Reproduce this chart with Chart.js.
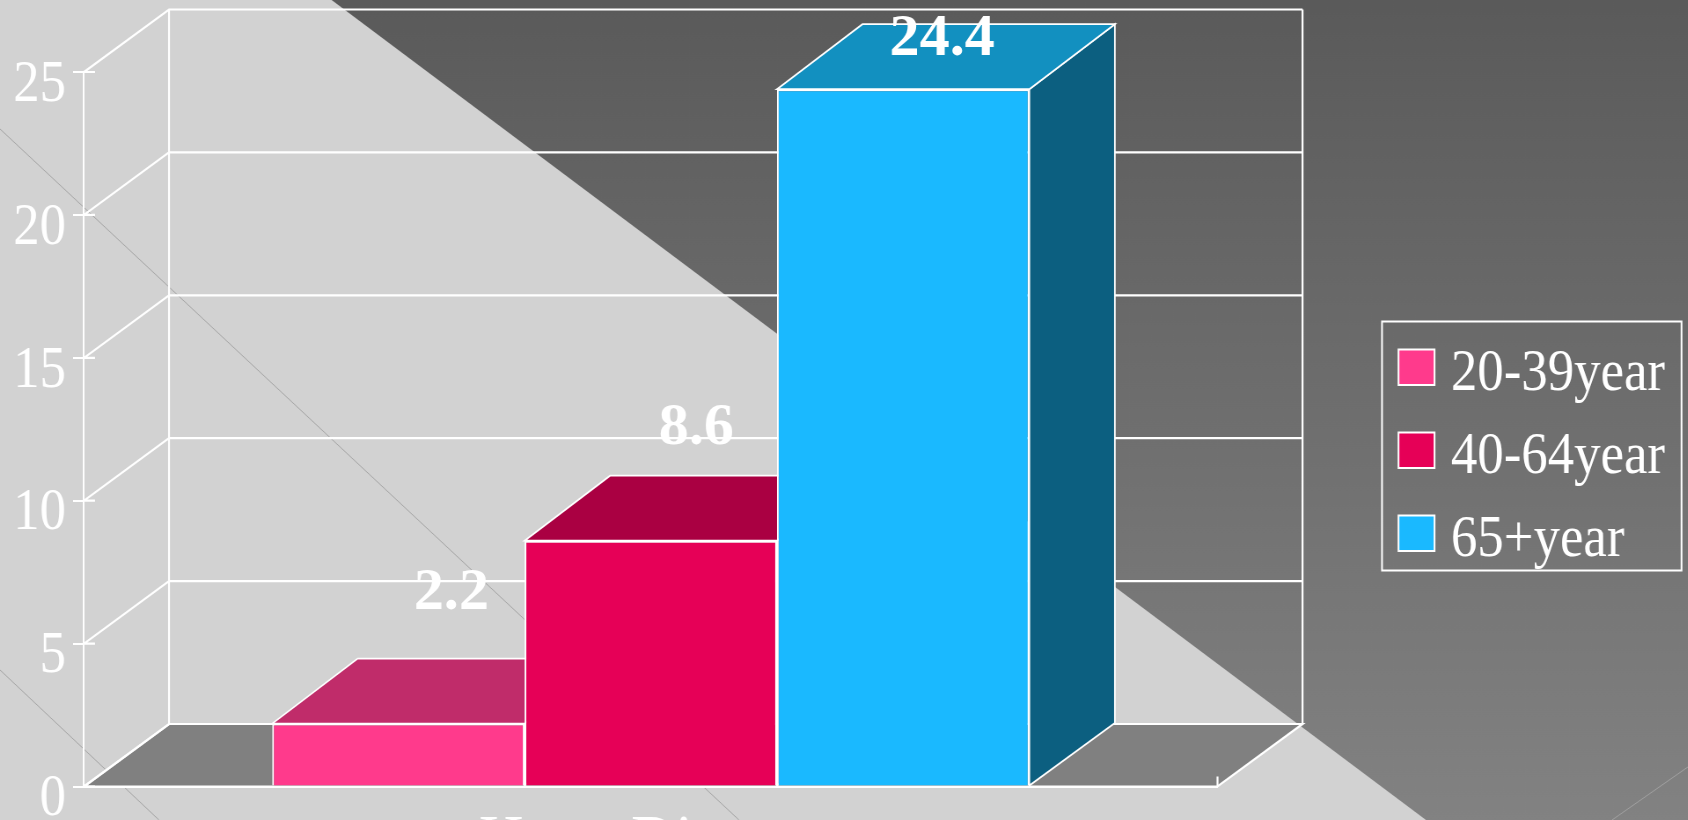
<!DOCTYPE html>
<html>
<head>
<meta charset="utf-8">
<style>
html,body{margin:0;padding:0;width:1688px;height:820px;overflow:hidden;background:#d2d2d2}
#c{position:absolute;left:0;top:0;transform-origin:0 0;transform:scaleX(0.88)}
</style>
<script src="https://cdn.jsdelivr.net/npm/chart.js@4"></script>
</head>
<body>
<canvas id="c" width="1918" height="820"></canvas>
<script>
const categories = ['Heart Disease'];
const seriesNames = ['20-39year', '40-64year', '65+year'];
const series1 = [2.2];
const series2 = [8.6];
const series3 = [24.4];
const yTicks = [0, 5, 10, 15, 20, 25];

const frontColors = ['#ff3a8c', '#e60057', '#1ab9ff'];
const topColors = ['#c02c6a', '#aa0042', '#1290c0'];
const sideColors = ['#a0265a', '#8a0038', '#0c5f80'];

const SX = 0.88;               // horizontal squeeze of the whole picture
const X = v => v / SX;         // picture px -> canvas px
const FONT = '"Liberation Serif"';
const WHITE = '#ffffff';
const PLOT_TOP = 72, PLOT_BOTTOM = 786.5;
const WALL_DX = X(85), WALL_DY = 62.5;
const BAR_DX = X(85.5), BAR_DY = 65;
const LABEL_STRETCH = 1.14;
const labelShiftX = [53, 45.5, 39];
const labelShiftY = [-115, -97, -34];

const pinPlot = {
  id: 'pinPlot',
  afterLayout(chart) {
    const xs = chart.scales.x, ys = chart.scales.y, a = chart.chartArea;
    ys.top = PLOT_TOP; ys.bottom = PLOT_BOTTOM; ys.height = PLOT_BOTTOM - PLOT_TOP;
    ys.configure();
    xs.top = PLOT_BOTTOM; xs.bottom = chart.height; xs.height = chart.height - PLOT_BOTTOM;
    a.top = PLOT_TOP; a.bottom = PLOT_BOTTOM; a.height = ys.height;
  }
};

const backdrop = {
  id: 'backdrop',
  beforeDraw(chart) {
    const c = chart.ctx, W = chart.width, H = chart.height;
    c.save();
    const g = c.createLinearGradient(0, 0, 0, H);
    g.addColorStop(0, '#5a5a5a');
    g.addColorStop(1, '#828282');
    c.fillStyle = g;
    c.fillRect(0, 0, W, H);
    c.fillStyle = '#d2d2d2';
    c.beginPath();
    c.moveTo(0, 0); c.lineTo(X(331.6), 0); c.lineTo(X(1426), H); c.lineTo(0, H);
    c.closePath(); c.fill();
    c.lineWidth = 1;
    c.strokeStyle = '#a6a6a6';
    c.beginPath();
    c.moveTo(0, 129); c.lineTo(X(739), H);
    c.moveTo(0, 670); c.lineTo(X(159), H);
    c.stroke();
    c.strokeStyle = '#a0a0a0';
    c.beginPath();
    c.moveTo(X(1612), H); c.lineTo(W, 767);
    c.stroke();
    c.restore();
  }
};

const walls3d = {
  id: 'walls3d',
  beforeDatasetsDraw(chart) {
    const c = chart.ctx, xs = chart.scales.x, ys = chart.scales.y;
    const L = xs.left, R = xs.right, B = ys.getPixelForValue(0), T = ys.getPixelForValue(25);
    c.save();
    c.lineJoin = 'miter';
    // floor
    c.fillStyle = '#808080';
    c.beginPath();
    c.moveTo(L, B); c.lineTo(L + WALL_DX, B - WALL_DY);
    c.lineTo(R + WALL_DX, B - WALL_DY); c.lineTo(R, B);
    c.closePath(); c.fill();
    c.strokeStyle = WHITE; c.lineWidth = 2.2; c.stroke();
    // back wall and left wall lines
    c.beginPath();
    yTicks.forEach(v => {
      const y = ys.getPixelForValue(v);
      c.moveTo(L, y); c.lineTo(L + WALL_DX, y - WALL_DY); c.lineTo(R + WALL_DX, y - WALL_DY);
      // inner half of the crossing tick
      c.moveTo(L, y); c.lineTo(L + X(11), y);
    });
    c.moveTo(L + WALL_DX, B - WALL_DY); c.lineTo(L + WALL_DX, T - WALL_DY);
    c.moveTo(R + WALL_DX, B - WALL_DY); c.lineTo(R + WALL_DX, T - WALL_DY);
    c.moveTo(R, B); c.lineTo(R, B - 10);
    c.stroke();
    // bar top and side faces, first series first
    [0, 1, 2].forEach(i => {
      const bar = chart.getDatasetMeta(i).data[0];
      const p = bar.getProps(['x', 'y', 'width', 'base'], true);
      const l = p.x - p.width / 2, r = p.x + p.width / 2;
      c.lineWidth = 1.8;
      c.strokeStyle = WHITE;
      c.fillStyle = sideColors[i];
      c.beginPath();
      c.moveTo(r, p.y); c.lineTo(r + BAR_DX, p.y - BAR_DY);
      c.lineTo(r + BAR_DX, p.base - WALL_DY); c.lineTo(r, p.base);
      c.closePath(); c.fill(); c.stroke();
      c.fillStyle = topColors[i];
      c.beginPath();
      c.moveTo(l, p.y); c.lineTo(l + BAR_DX, p.y - BAR_DY);
      c.lineTo(r + BAR_DX, p.y - BAR_DY); c.lineTo(r, p.y);
      c.closePath(); c.fill(); c.stroke();
    });
    c.restore();
  },
  afterDatasetsDraw(chart) {
    const c = chart.ctx;
    c.save();
    // value labels
    c.font = 'bold 60px ' + FONT;
    c.fillStyle = WHITE;
    c.textAlign = 'center';
    c.textBaseline = 'alphabetic';
    chart.data.datasets.forEach((ds, i) => {
      const bar = chart.getDatasetMeta(i).data[0];
      const p = bar.getProps(['x', 'y'], true);
      c.save();
      c.translate(p.x + X(labelShiftX[i]), p.y + labelShiftY[i]);
      c.scale(LABEL_STRETCH, 1);
      c.fillText(ds.data[0].toFixed(1), 0, 0);
      c.restore();
    });
    // legend
    c.strokeStyle = WHITE;
    c.lineWidth = 2;
    c.strokeRect(X(1382), 321.5, X(299.5), 249);
    c.font = '60px ' + FONT;
    c.textAlign = 'left';
    chart.data.datasets.forEach((ds, i) => {
      const top = 349.5 + i * 83;
      c.fillStyle = ds.backgroundColor;
      c.fillRect(X(1398.5), top, X(36), 35.5);
      c.strokeRect(X(1398.5), top, X(36), 35.5);
      c.fillStyle = WHITE;
      c.fillText(ds.label, X(1451), 390 + i * 83);
    });
    c.restore();
  }
};

new Chart(document.getElementById('c'), {
  type: 'bar',
  data: {
    labels: categories,
    datasets: [series1, series2, series3].map((values, i) => ({
      label: seriesNames[i],
      data: values,
      backgroundColor: frontColors[i],
      borderColor: WHITE,
      borderWidth: 2
    }))
  },
  plugins: [pinPlot, backdrop, walls3d],
  options: {
    responsive: false,
    maintainAspectRatio: false,
    animation: false,
    events: [],
    devicePixelRatio: 1,
    categoryPercentage: 0.668,
    barPercentage: 1,
    layout: {
      autoPadding: false,
      padding: { left: 0, top: PLOT_TOP, bottom: 0, right: 1918 - X(1217.5) }
    },
    plugins: { legend: { display: false }, tooltip: { enabled: false }, title: { display: false } },
    scales: {
      x: {
        afterFit(s) { s.height = 34; },
        grid: { display: false },
        border: { color: WHITE, width: 2 },
        ticks: {
          color: WHITE, padding: 15, maxRotation: 0, autoSkip: false,
          font: { family: FONT, size: 70, lineHeight: 1 }
        }
      },
      y: {
        min: 0, max: 25,
        afterFit(s) { s.width = X(84); },
        afterBuildTicks(s) { s.ticks = yTicks.map(v => ({ value: v })); },
        grid: { drawOnChartArea: false, color: WHITE, tickColor: WHITE, tickLength: X(11), lineWidth: 2 },
        border: { color: WHITE, width: 2 },
        ticks: {
          color: WHITE, padding: 8, labelOffset: 13,
          font: { family: FONT, size: 60, lineHeight: 1 }
        }
      }
    }
  }
});
</script>
</body>
</html>
